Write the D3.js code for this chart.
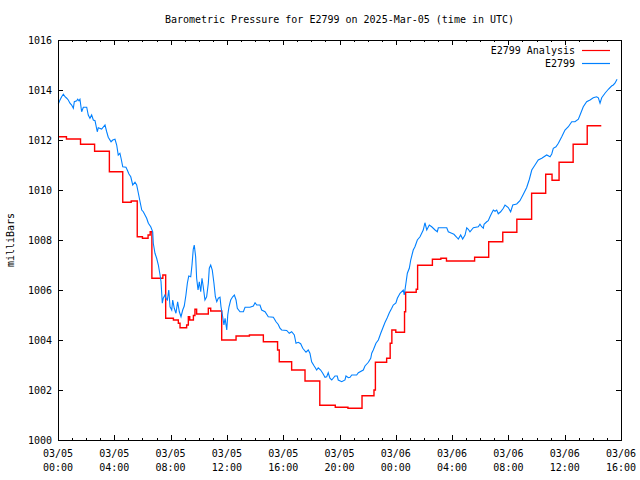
<!DOCTYPE html>
<html>
<head>
<meta charset="utf-8">
<script src="https://cdn.jsdelivr.net/npm/d3@7"></script>
<style>
  html, body { margin: 0; padding: 0; background: #fff; }
  svg { display: block; }
  text { font-family: "DejaVu Sans Mono", monospace; font-size: 10px; fill: #000; }
</style>
</head>
<body>
<script>
// ---- Data (hours since 2025-03-05 00:00 UTC, pressure in mb) ----
const title = "Barometric Pressure for E2799 on 2025-Mar-05 (time in UTC)";
const yLabel = "milliBars";
const seriesNames = ["E2799 Analysis", "E2799"];

const analysisHours = [0, 0.6, 1.6, 2.6, 3.65, 4.6, 5.2, 5.63, 6.0, 6.4, 6.55, 6.67, 7.45, 7.65, 8.2, 8.55, 8.67, 9.14, 9.26, 9.36, 9.62, 9.73, 9.85, 10.68, 10.85, 11.63, 12.65, 13.6, 14.59, 15.6, 15.72, 16.6, 17.55, 18.6, 19.7, 20.6, 21.6, 22.45, 22.55, 23.35, 23.6, 23.72, 24.0, 24.62, 24.7, 25.45, 25.55, 26.6, 27.2, 27.6, 29.6, 30.6, 31.6, 32.6, 33.65, 34.65, 35.1, 35.6, 36.6, 37.6, 38.6];
const analysisValues = [1012.13, 1012.04, 1011.83, 1011.55, 1010.73, 1009.51, 1009.56, 1008.13, 1008.07, 1008.2, 1008.33, 1006.47, 1006.6, 1004.87, 1004.8, 1004.67, 1004.49, 1004.6, 1004.93, 1004.8, 1004.98, 1005.23, 1005.04, 1005.27, 1005.16, 1004.0, 1004.16, 1004.2, 1003.93, 1003.6, 1003.13, 1002.8, 1002.36, 1001.39, 1001.31, 1001.27, 1001.77, 1002.0, 1003.11, 1003.27, 1003.87, 1004.4, 1004.31, 1005.13, 1005.91, 1006.03, 1006.99, 1007.23, 1007.27, 1007.16, 1007.31, 1007.93, 1008.31, 1008.83, 1009.87, 1010.63, 1010.39, 1011.11, 1011.83, 1012.57, 1012.57];

const obsHours = [0.02, 0.14, 0.26, 0.38, 0.50, 0.62, 0.73, 0.85, 0.97, 1.09, 1.16, 1.33, 1.40, 1.49, 1.56, 1.68, 1.80, 2.04, 2.15, 2.27, 2.39, 2.51, 2.63, 2.79, 2.86, 3.10, 3.34, 3.46, 3.57, 3.77, 3.89, 4.05, 4.17, 4.28, 4.40, 4.48, 4.60, 4.83, 4.92, 5.04, 5.17, 5.31, 5.47, 5.59, 5.71, 5.83, 5.95, 6.06, 6.18, 6.30, 6.42, 6.59, 6.73, 6.77, 6.89, 7.01, 7.13, 7.25, 7.32, 7.41, 7.48, 7.60, 7.67, 7.77, 7.87, 7.96, 8.08, 8.15, 8.26, 8.38, 8.50, 8.62, 8.74, 8.86, 8.97, 9.09, 9.19, 9.29, 9.43, 9.52, 9.61, 9.68, 9.78, 9.85, 9.95, 10.04, 10.14, 10.23, 10.32, 10.44, 10.56, 10.68, 10.75, 10.85, 10.96, 11.08, 11.18, 11.28, 11.39, 11.51, 11.58, 11.70, 11.79, 11.87, 11.99, 12.06, 12.15, 12.27, 12.41, 12.53, 12.65, 12.74, 12.93, 13.17, 13.29, 13.64, 13.88, 14.00, 14.12, 14.35, 14.47, 14.71, 14.94, 15.30, 15.49, 15.65, 15.77, 15.89, 16.25, 16.43, 16.60, 16.79, 16.91, 17.07, 17.24, 17.39, 17.62, 17.78, 17.90, 18.02, 18.19, 18.38, 18.49, 18.66, 18.81, 18.97, 19.09, 19.20, 19.32, 19.45, 19.68, 19.84, 19.91, 20.16, 20.39, 20.46, 20.63, 20.75, 20.87, 21.22, 21.34, 21.69, 21.81, 22.05, 22.22, 22.29, 22.40, 22.59, 22.76, 22.93, 23.07, 23.23, 23.40, 23.54, 23.71, 23.82, 24.01, 24.11, 24.30, 24.53, 24.60, 24.72, 24.82, 24.96, 25.06, 25.24, 25.36, 25.53, 25.72, 25.84, 25.95, 26.07, 26.20, 26.38, 26.55, 26.79, 26.95, 27.02, 27.37, 27.62, 27.73, 27.97, 28.13, 28.33, 28.44, 28.61, 28.75, 28.92, 29.04, 29.15, 29.27, 29.51, 29.86, 29.98, 30.10, 30.22, 30.27, 30.46, 30.57, 30.69, 30.81, 30.93, 31.05, 31.17, 31.28, 31.45, 31.64, 31.76, 31.99, 32.16, 32.31, 32.59, 32.82, 33.06, 33.30, 33.49, 33.66, 33.89, 34.12, 34.37, 34.72, 34.96, 35.08, 35.19, 35.38, 35.55, 35.79, 36.02, 36.26, 36.50, 36.73, 36.97, 37.09, 37.32, 37.56, 37.80, 38.03, 38.27, 38.39, 38.51, 38.63, 38.86, 39.10, 39.33, 39.45, 39.57, 39.72];
const obsValues = [1013.44, 1013.6, 1013.73, 1013.83, 1013.73, 1013.67, 1013.6, 1013.47, 1013.4, 1013.27, 1013.53, 1013.57, 1013.63, 1013.57, 1013.63, 1013.13, 1013.31, 1013.31, 1013.0, 1012.87, 1013.0, 1012.8, 1012.77, 1012.33, 1012.49, 1012.44, 1012.6, 1012.33, 1012.11, 1011.93, 1012.0, 1012.03, 1011.8, 1011.4, 1011.47, 1011.27, 1010.93, 1010.91, 1010.8, 1010.64, 1010.53, 1010.2, 1010.31, 1010.2, 1009.87, 1009.53, 1009.2, 1009.13, 1009.0, 1008.87, 1008.67, 1008.53, 1008.33, 1007.87, 1007.47, 1007.27, 1007.0, 1006.6, 1006.33, 1005.47, 1005.67, 1005.8, 1005.67, 1005.6, 1006.0, 1005.33, 1005.2, 1005.6, 1005.27, 1005.07, 1005.53, 1005.13, 1004.93, 1005.2, 1005.36, 1005.8, 1006.27, 1006.56, 1006.53, 1007.0, 1007.63, 1007.8, 1007.33, 1006.47, 1006.0, 1006.33, 1005.93, 1006.47, 1006.13, 1005.6, 1005.73, 1006.27, 1006.87, 1007.0, 1006.8, 1006.27, 1005.73, 1005.53, 1005.67, 1005.71, 1005.33, 1004.93, 1004.6, 1004.87, 1004.4, 1005.0, 1005.33, 1005.6, 1005.73, 1005.8, 1005.6, 1005.27, 1005.13, 1005.13, 1005.31, 1005.31, 1005.36, 1005.49, 1005.4, 1005.4, 1005.2, 1005.13, 1004.93, 1004.91, 1004.73, 1004.62, 1004.47, 1004.4, 1004.38, 1004.27, 1004.33, 1004.2, 1003.87, 1003.91, 1003.85, 1003.67, 1003.51, 1003.6, 1003.47, 1003.13, 1002.97, 1002.8, 1002.89, 1002.8, 1002.67, 1002.51, 1002.53, 1002.69, 1002.47, 1002.4, 1002.56, 1002.56, 1002.4, 1002.33, 1002.4, 1002.56, 1002.49, 1002.51, 1002.6, 1002.6, 1002.69, 1002.8, 1002.96, 1003.11, 1003.27, 1003.47, 1003.6, 1003.87, 1004.0, 1004.27, 1004.47, 1004.7, 1004.9, 1005.09, 1005.27, 1005.4, 1005.48, 1005.67, 1005.87, 1006.0, 1005.8, 1006.27, 1006.67, 1006.87, 1007.2, 1007.6, 1007.73, 1008.0, 1008.13, 1008.27, 1008.4, 1008.69, 1008.4, 1008.6, 1008.53, 1008.4, 1008.33, 1008.49, 1008.49, 1008.49, 1008.33, 1008.27, 1008.23, 1008.11, 1008.04, 1008.2, 1008.04, 1008.2, 1008.49, 1008.43, 1008.33, 1008.49, 1008.53, 1008.63, 1008.53, 1008.47, 1008.63, 1008.73, 1008.77, 1008.93, 1009.07, 1009.2, 1009.15, 1009.2, 1009.05, 1009.13, 1009.27, 1009.4, 1009.3, 1009.13, 1009.4, 1009.44, 1009.57, 1009.83, 1010.1, 1010.43, 1010.8, 1011.0, 1011.2, 1011.27, 1011.4, 1011.33, 1011.44, 1011.67, 1011.73, 1011.87, 1012.13, 1012.4, 1012.53, 1012.73, 1012.73, 1012.83, 1013.0, 1013.33, 1013.53, 1013.6, 1013.69, 1013.73, 1013.69, 1013.47, 1013.69, 1013.87, 1014.03, 1014.16, 1014.2, 1014.27, 1014.43];

const yTicks = [1000, 1002, 1004, 1006, 1008, 1010, 1012, 1014, 1016];
const yDomain = [1000, 1016];
const xStartHour = 0, xEndHour = 40;

// ---- Layout ----
const W = 640, H = 480;
const M = { left: 58, right: 19, top: 40, bottom: 40 };
const t0 = Date.UTC(2025, 2, 5, 0, 0);
const toDate = h => new Date(t0 + h * 3600e3);

const svg = d3.select("body").append("svg").attr("width", W).attr("height", H);

const x = d3.scaleUtc().domain([toDate(xStartHour), toDate(xEndHour)]).range([M.left, W - M.right]);
const y = d3.scaleLinear().domain(yDomain).range([H - M.bottom, M.top]);

const majorX = d3.utcHour.every(4).range(toDate(xStartHour), toDate(xEndHour + 0.01));
const minorX = d3.utcHour.every(1).range(toDate(xStartHour), toDate(xEndHour + 0.01));

const x0 = M.left, x1 = W - M.right, y0 = H - M.bottom, y1 = M.top;

// ticks (inward, gnuplot-style)
const tickG = svg.append("g").attr("stroke", "#000").attr("stroke-width", 1).attr("shape-rendering", "crispEdges");
minorX.forEach(d => {
  const major = d.getUTCHours() % 4 === 0;
  const len = major ? 5 : 2;
  const px = Math.round(x(d)) + 0.5;
  tickG.append("line").attr("x1", px).attr("x2", px).attr("y1", y0).attr("y2", y0 - len);
  tickG.append("line").attr("x1", px).attr("x2", px).attr("y1", y1).attr("y2", y1 + len);
});
yTicks.forEach(v => {
  const py = Math.round(y(v)) + 0.5;
  tickG.append("line").attr("x1", x0).attr("x2", x0 + 5).attr("y1", py).attr("y2", py);
  tickG.append("line").attr("x1", x1).attr("x2", x1 - 5).attr("y1", py).attr("y2", py);
});

// y labels via axis scale
svg.append("g").selectAll("text").data(yTicks).join("text")
  .attr("x", x0 - 6).attr("y", d => y(d)).attr("dy", "0.35em")
  .attr("text-anchor", "end").text(d => d);

// x labels
const fmtDate = d3.utcFormat("%m/%d"), fmtTime = d3.utcFormat("%H:%M");
const xl = svg.append("g").selectAll("g").data(majorX).join("g");
xl.append("text").attr("x", d => x(d)).attr("y", 457).attr("text-anchor", "middle").text(d => fmtDate(d));
xl.append("text").attr("x", d => x(d)).attr("y", 471).attr("text-anchor", "middle").text(d => fmtTime(d));

// data lines
const analysis = analysisHours.map((h, i) => ({ t: toDate(h), v: analysisValues[i] }));
const obs = obsHours.map((h, i) => ({ t: toDate(h), v: obsValues[i] }));

const g = svg.append("g");
g.append("path").datum(analysis)
  .attr("fill", "none").attr("stroke", "#ff0000").attr("stroke-width", 1.4)
  .attr("d", d3.line().x(d => x(d.t)).y(d => y(d.v)).curve(d3.curveStepAfter));
g.append("path").datum(obs)
  .attr("fill", "none").attr("stroke", "#0080ff").attr("stroke-width", 1.1)
  .attr("d", d3.line().x(d => x(d.t)).y(d => y(d.v)));

// frame
svg.append("rect").attr("x", x0 + 0.5).attr("y", y1 + 0.5).attr("width", x1 - x0).attr("height", y0 - y1)
  .attr("fill", "none").attr("stroke", "#000").attr("shape-rendering", "crispEdges");

// title
svg.append("text").attr("x", (x0 + x1) / 2).attr("y", 23).attr("text-anchor", "middle").text(title);

// y axis label
svg.append("text").attr("transform", `translate(14,${(y0 + y1) / 2}) rotate(-90)`)
  .attr("text-anchor", "middle").text(yLabel);

// legend
const legColors = ["#ff0000", "#0080ff"];
seriesNames.forEach((name, i) => {
  const ly = 50 + i * 13;
  svg.append("text").attr("x", 575).attr("y", ly).attr("dy", "0.35em").attr("text-anchor", "end").text(name);
  svg.append("line").attr("x1", 582).attr("x2", 610).attr("y1", ly + 0.5).attr("y2", ly + 0.5)
    .attr("stroke", legColors[i]).attr("stroke-width", 1.2);
});
</script>
</body>
</html>
